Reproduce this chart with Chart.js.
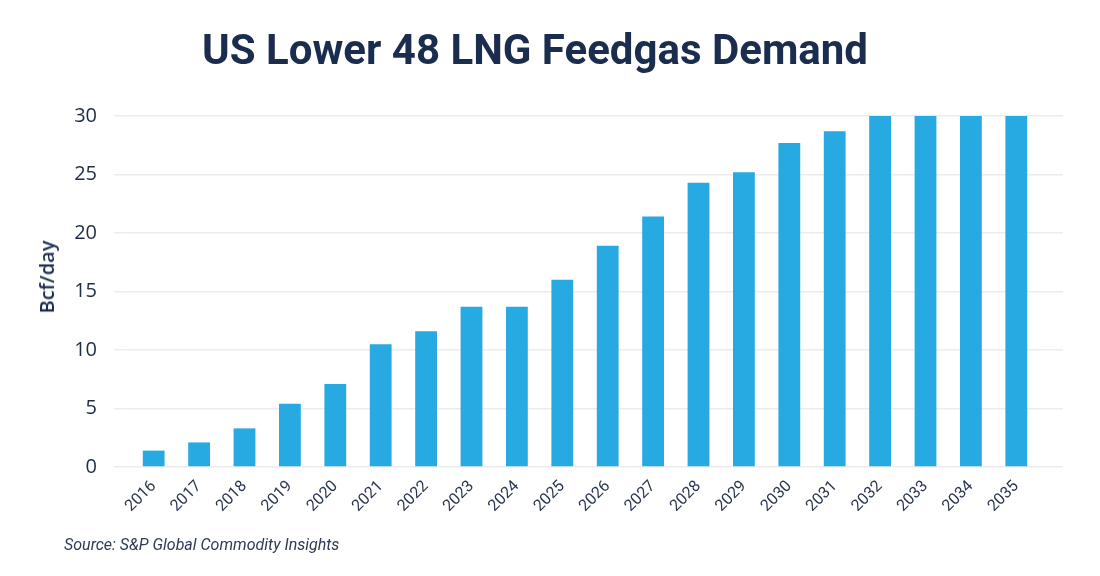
<!DOCTYPE html>
<html>
<head>
<meta charset="utf-8">
<script src="https://cdn.jsdelivr.net/npm/chart.js@4/dist/chart.umd.min.js"></script>
<style>
  html, body { margin: 0; padding: 0; background: #ffffff; }
  #wrap { position: relative; width: 1100px; height: 576px; }
  #source { position: absolute; left: 64px; top: 535px; font-family: Roboto, sans-serif; font-style: italic; font-size: 16px; color: #2e3b55; }
  #ytitle { position: absolute; left: 47px; top: 277px; transform: translate(-50%, -50%) rotate(-90deg); font-family: "Open Sans", sans-serif; font-weight: 600; font-size: 20px; color: #1b2d4f; white-space: nowrap; line-height: 1; }
</style>
</head>
<body>
<div id="wrap">
  <canvas id="c" width="1100" height="576"></canvas>
  <div id="ytitle"></div>
  <div id="source">Source: S&amp;P Global Commodity Insights</div>
</div>
<script>
const categories = ["2016","2017","2018","2019","2020","2021","2022","2023","2024","2025","2026","2027","2028","2029","2030","2031","2032","2033","2034","2035"];
const feedgasDemand = [1.4, 2.1, 3.3, 5.4, 7.1, 10.5, 11.6, 13.7, 13.7, 16.0, 18.9, 21.4, 24.3, 25.2, 27.7, 28.7, 30, 30, 30, 30];
const yTicks = [0, 5, 10, 15, 20, 25, 30];
const chartTitle = "US Lower 48 LNG Feedgas Demand";
const yAxisTitle = "Bcf/day";

document.getElementById("ytitle").textContent = yAxisTitle;

const navy = "#1b2d4f";
const gridColor = "#ececec";

new Chart(document.getElementById("c"), {
  type: "bar",
  data: {
    labels: categories,
    datasets: [{
      data: feedgasDemand,
      backgroundColor: "#27a9e1",
      borderWidth: 0,
      categoryPercentage: 1,
      barPercentage: 0.48
    }]
  },
  options: {
    responsive: false,
    animation: false,
    devicePixelRatio: 1,
    layout: { autoPadding: false, padding: { left: 0, right: 30, top: 0, bottom: 58 } },
    plugins: {
      legend: { display: false },
      tooltip: { enabled: false },
      title: {
        display: true,
        text: chartTitle,
        color: navy,
        font: { family: "Roboto", size: 42, weight: "bold" },
        padding: { top: 28, bottom: 37.6 }
      }
    },
    scales: {
      x: {
        grid: { display: false },
        border: { display: false },
        ticks: {
          color: "#2a3650",
          font: { family: "Roboto", size: 16 },
          minRotation: 45,
          maxRotation: 45,
          padding: 2,
          autoSkip: false
        }
      },
      y: {
        min: 0,
        max: 30,
        afterBuildTicks: (s) => { s.ticks = yTicks.map(v => ({ value: v })); },
        afterFit: (s) => { s.width = 131; },
        grid: { color: gridColor, lineWidth: 1.5, tickLength: 17, tickColor: gridColor },
        border: { display: false },
        ticks: {
          color: "#1f2c47",
          font: { family: "Open Sans", size: 20 },
          padding: 17
        }
      },
      yRight: {
        position: "right",
        min: 0,
        max: 30,
        afterBuildTicks: (s) => { s.ticks = yTicks.map(v => ({ value: v })); },
        afterFit: (s) => { s.width = 31; },
        grid: { drawOnChartArea: false, color: gridColor, lineWidth: 1.5, tickLength: 24, tickColor: gridColor },
        border: { display: false },
        ticks: { display: false }
      }
    }
  }
});
</script>
</body>
</html>
